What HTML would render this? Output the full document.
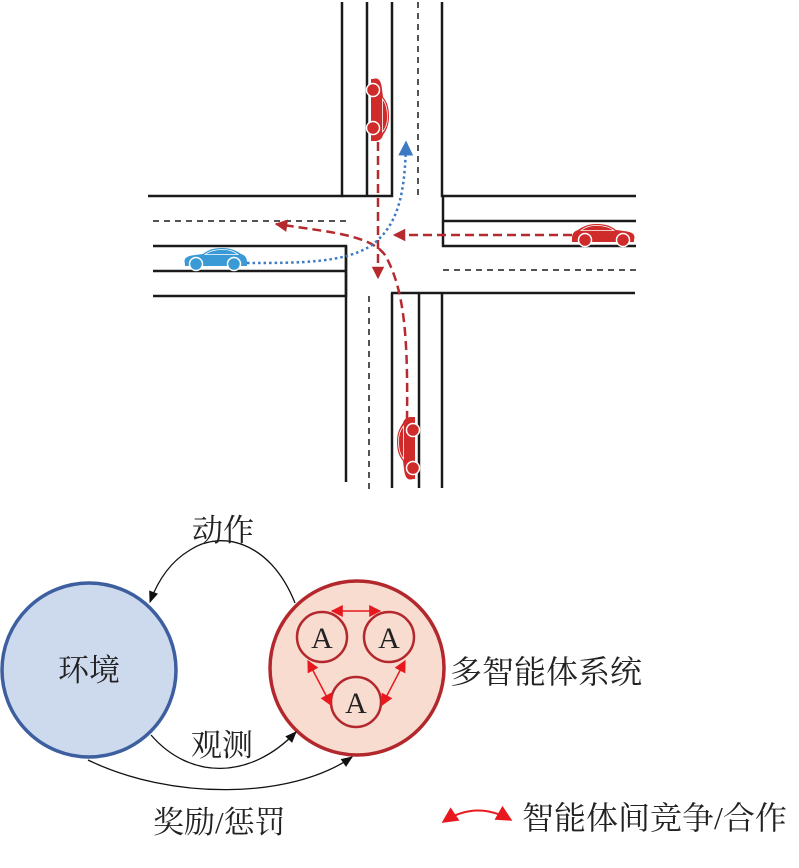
<!DOCTYPE html>
<html><head><meta charset="utf-8"><style>
html,body{margin:0;padding:0;background:#fff}
svg{display:block}
text{font-family:"Liberation Serif","Noto Serif CJK SC","Noto Sans CJK SC",serif;fill:#222}
</style></head><body>
<svg width="799" height="868" viewBox="0 0 799 868" xmlns="http://www.w3.org/2000/svg">
<defs>
<g id="car">
<path d="M2,16 C0,10 4,8 12,7 L20,6 C26,1 32,0 40,0 C48,0 54,3 58,6 C62,7 64,10 64,14 L64,18 L2,18 Z"/>
<circle cx="13" cy="16" r="6.5" stroke="#fff" stroke-width="1.5"/>
<circle cx="51" cy="16" r="6.5" stroke="#fff" stroke-width="1.5"/>
<path d="M22,6.5 C27,2.5 33,1.5 40,1.5 C47,1.5 52,4 55,6.5 Z" fill="none" stroke="#fff" stroke-width="0.8"/>
</g>
<marker id="ar" viewBox="0 0 10 10" refX="9" refY="5" markerWidth="6" markerHeight="5" orient="auto"><path d="M0,0 L10,5 L0,10 Z" fill="#b52a2e"/></marker>
<marker id="ab" viewBox="0 0 10 10" refX="9" refY="5" markerWidth="6" markerHeight="6" orient="auto"><path d="M0,0 L10,5 L0,10 Z" fill="#3d7ac2"/></marker>
<marker id="ak" viewBox="0 0 10 10" refX="9" refY="5" markerWidth="12" markerHeight="9" orient="auto"><path d="M0,1 L10,5 L0,9 Z" fill="#111"/></marker>
<marker id="rr" viewBox="0 0 10 10" refX="9" refY="5" markerWidth="10" markerHeight="8" orient="auto-start-reverse"><path d="M0,0 L10,5 L0,10 Z" fill="#e8191e"/></marker>
</defs>

<g stroke="#1a1a1a" stroke-width="2.5" fill="none">
<path d="M342,2 V196 H148"/>
<path d="M367,2 V196"/>
<path d="M392,2 V196 H342"/>
<path d="M442,2 V196 H636"/>
<path d="M443,196 V246 H636"/>
<path d="M443,221 H636"/>
<path d="M153,246 H346 V296 H153"/>
<path d="M153,271 H346"/>
<path d="M346,246 V482"/>
<path d="M391,293 H635"/>
<path d="M392,293 V488"/>
<path d="M419,293 V488"/>
<path d="M442,293 V488"/>
</g>
<g stroke="#1a1a1a" stroke-width="1.5" fill="none" stroke-dasharray="6,5">
<path d="M418,2 V198"/>
<path d="M153,221 H347"/>
<path d="M443,270 H636"/>
<path d="M369,296 V490"/>
</g>

<g fill="none" stroke="#b52a2e" stroke-width="2.5" stroke-dasharray="9,5">
<path d="M378,142 V278" marker-end="url(#ar)"/>
<path d="M572,235 H394" marker-end="url(#ar)"/>
<path d="M407,420 C408,340 405,290 385,255 C370,235 330,232 276,224" marker-end="url(#ar)"/>
</g>
<path d="M247,263 C300,263 345,263 372,245 C398,225 405,195 406,142" fill="none" stroke="#3d7ac2" stroke-width="2.5" stroke-dasharray="2.5,3" marker-end="url(#ab)"/>

<use href="#car" fill="#3a9ad6" transform="translate(183,248)"/>
<use href="#car" fill="#cf2b2b" transform="translate(636,224) scale(-1,1)"/>
<use href="#car" fill="#cf2b2b" transform="translate(389,77) rotate(90)"/>
<use href="#car" fill="#cf2b2b" transform="translate(397,481) rotate(-90)"/>

<circle cx="89" cy="670" r="87" fill="#cddaee" stroke="#3d5fa0" stroke-width="3.5"/>
<circle cx="357" cy="668" r="87" fill="#f9dcd0" stroke="#b3282d" stroke-width="3.5"/>
<g fill="none" stroke="#b3282d" stroke-width="2.5">
<circle cx="322" cy="637" r="25"/>
<circle cx="389" cy="637" r="25"/>
<circle cx="356" cy="702" r="25"/>
</g>
<g font-size="30" text-anchor="middle">
<text x="322" y="648">A</text><text x="389" y="648">A</text><text x="356" y="713">A</text>
</g>
<g stroke="#e8191e" stroke-width="1.5" fill="none">
<path d="M332,611 L380,611" marker-start="url(#rr)" marker-end="url(#rr)"/>
<path d="M308,661 L331,705" marker-start="url(#rr)" marker-end="url(#rr)"/>
<path d="M405,661 L382,705" marker-start="url(#rr)" marker-end="url(#rr)"/>
<path d="M443,822 Q476,800 511,820" stroke-width="2" marker-start="url(#rr)" marker-end="url(#rr)"/>
</g>

<g fill="none" stroke="#111" stroke-width="1.3">
<path d="M295,603 C270,540 220,530 190,550 C170,562 158,580 150,602" marker-end="url(#ak)"/>
<path d="M151,735 C190,780 250,780 296,732" marker-end="url(#ak)"/>
<path d="M88,760 C170,800 290,800 352,757" marker-end="url(#ak)"/>
</g>

<g font-size="31" style="font-family:'Noto Serif CJK SC','Noto Sans CJK SC',serif">
<text x="192" y="541">动作</text>
<text x="58" y="681">环境</text>
<text x="191" y="756">观测</text>
<text x="153" y="833">奖励/惩罚</text>
</g>
<g font-size="32" style="font-family:'Noto Sans CJK SC',sans-serif">
<text x="450" y="683">多智能体系统</text>
<text x="522" y="829">智能体间竞争/合作</text>
</g>
</svg>
</body></html>
